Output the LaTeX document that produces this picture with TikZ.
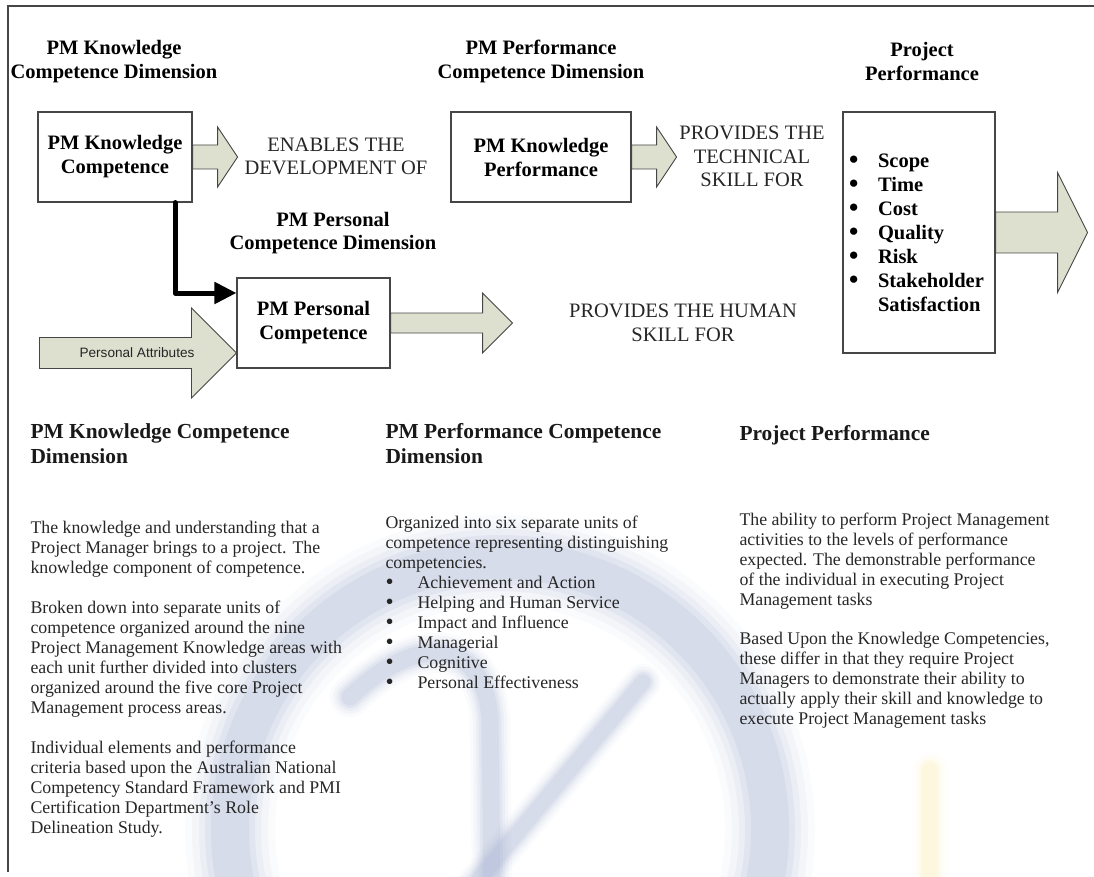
\documentclass[tikz,border=0pt]{standalone}
\usepackage{fontspec}
\setmainfont{Liberation Serif}
\setsansfont{Liberation Sans}
\usetikzlibrary{arrows.meta}

\definecolor{arrowfill}{RGB}{221,224,207}
\definecolor{boxline}{RGB}{70,70,70}
\definecolor{wmblue}{RGB}{165,177,208}
\definecolor{wmyellow}{RGB}{250,225,130}

\newcommand{\dotitem}[1]{\makebox[#1][l]{\smash{\raisebox{-0.06em}{\scalebox{1.3}{\textbullet}}}}}

\tikzset{
    box/.style={draw=boxline, line width=1.1pt, fill=white, align=center, inner sep=0pt,
        font=\fontsize{20.5}{24}\selectfont\bfseries},
    dimtitle/.style={align=center, font=\fontsize{20.5}{23.5}\selectfont\bfseries},
    flowtext/.style={align=center, text=black!85, font=\fontsize{20.5}{23.5}\selectfont},
    blockarrow/.style={draw=boxline, line width=0.9pt, fill=arrowfill, line join=miter},
    connector/.style={line width=5pt, line join=round, line cap=round,
        -{Triangle[length=22pt,width=21pt]}},
    % multi-line nodes sit on the baseline of their last line
    sechead/.style={anchor=base west, align=left, text=black!90,
        font=\fontsize{21.4}{25}\selectfont\bfseries},
    sectext/.style={anchor=base west, align=left, text=black!85,
        font=\fontsize{17.8}{20}\selectfont},
    watermark/.style={line cap=round}
}

\begin{document}
\begin{tikzpicture}[x=1pt, y=-1pt]
    \useasboundingbox (0,0) rectangle (1094,877);

    % faint logo behind the text
    \foreach \w/\o in {90/0.05, 76/0.08, 62/0.11, 50/0.15, 38/0.18} {
        \draw[watermark, draw=wmblue, line width=\w pt, opacity=\o] (500,830) circle[radius=270];
        \draw[watermark, draw=wmblue, line width=0.45*\w pt, opacity=\o]
            (350,697) .. controls (420,630) and (485,640) .. (490,720) -- (492,890);
        \draw[watermark, draw=wmblue, line width=0.4*\w pt, opacity=\o] (643,682) -- (470,890);
        \draw[watermark, draw=wmyellow, line width=0.4*\w pt, opacity=0.5*\o] (930,770) -- (930,890);
    }

    \draw[boxline, line width=1.2pt] (8,872) -- (8,6) -- (1094,6);

    \node[dimtitle] (kdim) at (114,61.5) {PM Knowledge\\Competence Dimension};
    \node[dimtitle] (pdim) at (541,61.5) {PM Performance\\Competence Dimension};
    \node[dimtitle] (ppdim) at (922,61.5) {Project\\Performance};
    \node[dimtitle] (pcdim) at (333,233) {PM Personal\\Competence Dimension};

    \node[box, minimum width=154pt, minimum height=90pt] (kc) at (115,157) {PM Knowledge\\Competence};
    \node[box, minimum width=180pt, minimum height=90pt] (kp) at (541,157) {PM Knowledge\\Performance};
    \node[box, minimum width=153pt, minimum height=90pt] (pc) at (313.5,323) {PM Personal\\Competence};
    \node[box, minimum height=241pt, text width=140pt, inner xsep=6pt, align=left] (pp) at (919,232.5) {%
        \dotitem{29pt}Scope\\
        \dotitem{29pt}Time\\
        \dotitem{29pt}Cost\\
        \dotitem{29pt}Quality\\
        \dotitem{29pt}Risk\\
        \dotitem{29pt}Stakeholder\\
        \hspace*{29pt}Satisfaction};

    \draw[blockarrow] (kc.east) ++(0,-12) -- ++(25,0) -- ++(0,-18) -- ++(20,30)
        -- ++(-20,30) -- ++(0,-18) -- ++(-25,0) -- cycle;
    \draw[blockarrow] (kp.east) ++(0,-12) -- ++(25,0) -- ++(0,-18) -- ++(20,30)
        -- ++(-20,30) -- ++(0,-18) -- ++(-25,0) -- cycle;
    \draw[blockarrow] (pc.east) ++(0,-10) -- ++(92,0) -- ++(0,-20) -- ++(30,30)
        -- ++(-30,30) -- ++(0,-20) -- ++(-92,0) -- cycle;
    \draw[blockarrow] (pp.east) ++(0,-20.5) -- ++(62,0) -- ++(0,-39.5) -- ++(30,60)
        -- ++(-30,60) -- ++(0,-39.5) -- ++(-62,0) -- cycle;
    \draw[blockarrow] ([yshift=-30pt]pc.west) -- ++(-45,-45) -- ++(0,29.5) -- ++(-152,0)
        -- ++(0,31) -- ++(152,0) -- ++(0,29.5) -- cycle;

    \node[font=\sffamily\fontsize{13.6}{16}\selectfont, text=black!85] (attr) at (137,353) {Personal Attributes};

    \draw[connector] ([xshift=60pt]kc.south) |- ([yshift=30pt]pc.west);

    \node[flowtext] (enables) at (336,156.5) {ENABLES THE\\DEVELOPMENT OF};
    \node[flowtext] (technical) at (752,156.5) {PROVIDES THE\\TECHNICAL\\SKILL FOR};
    \node[flowtext] (human) at (683,323) {PROVIDES THE HUMAN\\SKILL FOR};

    \node[sechead] (kchead) at (27,463) {PM Knowledge Competence\\Dimension};
    \node[sectext] (kctext) at (27,833.5) {The knowledge and understanding that a\\
        Project Manager brings to a project. The\\
        knowledge component of competence.\\[20pt]
        Broken down into separate units of\\
        competence organized around the nine\\
        Project Management Knowledge areas with\\
        each unit further divided into clusters\\
        organized around the five core Project\\
        Management process areas.\\[20pt]
        Individual elements and performance\\
        criteria based upon the Australian National\\
        Competency Standard Framework and PMI\\
        Certification Department’s Role\\
        Delineation Study.};

    \node[sechead] (pfhead) at (382,463) {PM Performance Competence\\Dimension};
    \node[sectext] (pftext) at (382,688.5) {Organized into six separate units of\\
        competence representing distinguishing\\
        competencies.\\
        \dotitem{32pt}Achievement and Action\\
        \dotitem{32pt}Helping and Human Service\\
        \dotitem{32pt}Impact and Influence\\
        \dotitem{32pt}Managerial\\
        \dotitem{32pt}Cognitive\\
        \dotitem{32pt}Personal Effectiveness};

    \node[sechead] (pphead) at (736,440) {Project Performance};
    \node[sectext] (pptext) at (736,724.5) {The ability to perform Project Management\\
        activities to the levels of performance\\
        expected. The demonstrable performance\\
        of the individual in executing Project\\
        Management tasks\\[19pt]
        Based Upon the Knowledge Competencies,\\
        these differ in that they require Project\\
        Managers to demonstrate their ability to\\
        actually apply their skill and knowledge to\\
        execute Project Management tasks};
\end{tikzpicture}
\end{document}
